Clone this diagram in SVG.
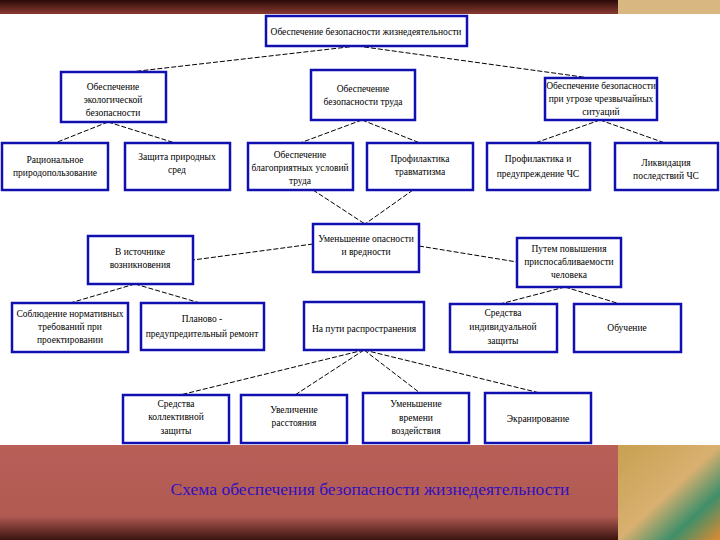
<svg xmlns="http://www.w3.org/2000/svg" width="720" height="540" viewBox="0 0 720 540">
<defs>
<linearGradient id="top" x1="0" y1="0" x2="0" y2="1"><stop offset="0" stop-color="#2a0a08"/><stop offset="1" stop-color="#8a3a32"/></linearGradient>
<linearGradient id="bot" x1="0" y1="0" x2="0" y2="1"><stop offset="0" stop-color="#b85f58"/><stop offset="0.75" stop-color="#b05a52"/><stop offset="1" stop-color="#3a1410"/></linearGradient>
<linearGradient id="deco" x1="0" y1="0" x2="1" y2="1"><stop offset="0" stop-color="#c8a050"/><stop offset="0.5" stop-color="#d9b070"/><stop offset="0.75" stop-color="#3f8f6a"/><stop offset="1" stop-color="#e08a30"/></linearGradient>
</defs>
<style>
.b{fill:#fff;stroke:#1010b0;stroke-width:2.5}
.t{font-family:'Liberation Serif',serif;font-size:9.5px;fill:#000;text-anchor:middle}
.c line{stroke:#000;stroke-width:1;stroke-dasharray:5,2}
</style>
<rect width="720" height="540" fill="#fff"/>
<rect width="720" height="14" fill="url(#top)"/>
<rect x="618" y="0" width="102" height="14" fill="#d8b880"/>
<rect x="0" y="445" width="720" height="95" fill="url(#bot)"/>
<rect x="618" y="445" width="102" height="95" fill="url(#deco)"/>
<text x="370" y="495" font-family="'Liberation Serif',serif" font-size="17.5" fill="#3010c0" text-anchor="middle">Схема обеспечения безопасности жизнедеятельности</text>
<g class="c">
<line x1="357" y1="46" x2="130" y2="72"/><line x1="357" y1="46" x2="590" y2="78"/>
<line x1="108" y1="122" x2="55" y2="143"/><line x1="108" y1="122" x2="175" y2="143"/>
<line x1="362" y1="120" x2="300" y2="143"/><line x1="362" y1="120" x2="420" y2="143"/>
<line x1="600" y1="120" x2="535" y2="143"/><line x1="600" y1="120" x2="665" y2="143"/>
<line x1="313" y1="190" x2="365" y2="224"/><line x1="413" y1="190" x2="365" y2="224"/>
<line x1="313" y1="244" x2="193" y2="260"/><line x1="419" y1="246" x2="517" y2="262"/>
<line x1="135" y1="284" x2="70" y2="303"/><line x1="135" y1="284" x2="200" y2="303"/>
<line x1="565" y1="287" x2="500" y2="304"/><line x1="565" y1="287" x2="620" y2="304"/>
<line x1="364" y1="350" x2="180" y2="395"/><line x1="364" y1="350" x2="295" y2="395"/>
<line x1="364" y1="350" x2="420" y2="393"/><line x1="364" y1="350" x2="540" y2="393"/>
</g>
<g id="root"><rect class="b" x="266" y="16" width="201" height="30"/><text class="t" x="366" y="35">Обеспечение безопасности жизнедеятельности</text></g>
<g id="n1"><rect class="b" x="61" y="72" width="105" height="50"/><text class="t" x="113" y="90">Обеспечение</text><text class="t" x="113" y="103">экологической</text><text class="t" x="113" y="116">безопасности</text></g>
<g id="n2"><rect class="b" x="311" y="70" width="104" height="50"/><text class="t" x="363" y="92">Обеспечение</text><text class="t" x="363" y="105">безопасности  труда</text></g>
<g id="n3"><rect class="b" x="545" y="78" width="112" height="42"/><text class="t" x="601" y="89">Обеспечение безопасности</text><text class="t" x="601" y="102">при угрозе чрезвычайных</text><text class="t" x="601" y="115">ситуаций</text></g>
<g id="n4"><rect class="b" x="2" y="143" width="106" height="47"/><text class="t" x="55" y="163">Рациональное</text><text class="t" x="55" y="176">природопользование</text></g>
<g id="n5"><rect class="b" x="125" y="143" width="105" height="47"/><text class="t" x="177" y="160">Защита природных</text><text class="t" x="177" y="173">сред</text></g>
<g id="n6"><rect class="b" x="248" y="143" width="105" height="47"/><text class="t" x="300" y="158">Обеспечение</text><text class="t" x="300" y="171">благоприятных условий</text><text class="t" x="300" y="184">труда</text></g>
<g id="n7"><rect class="b" x="367" y="143" width="106" height="47"/><text class="t" x="420" y="162">Профилактика</text><text class="t" x="420" y="175">травматизма</text></g>
<g id="n8"><rect class="b" x="487" y="143" width="103" height="47"/><text class="t" x="538" y="162">Профилактика и</text><text class="t" x="538" y="177">предупреждение ЧС</text></g>
<g id="n9"><rect class="b" x="615" y="143" width="103" height="47"/><text class="t" x="666" y="166">Ликвидация</text><text class="t" x="666" y="179">последствий ЧС</text></g>
<g id="n10"><rect class="b" x="313" y="224" width="106" height="48"/><text class="t" x="366" y="242">Уменьшение опасности</text><text class="t" x="366" y="255">и вредности</text></g>
<g id="n11"><rect class="b" x="88" y="236" width="105" height="48"/><text class="t" x="140" y="255">В источнике</text><text class="t" x="140" y="268">возникновения</text></g>
<g id="n12"><rect class="b" x="517" y="238" width="104" height="49"/><text class="t" x="569" y="252">Путем повышения</text><text class="t" x="569" y="265">приспосабливаемости</text><text class="t" x="569" y="278">человека</text></g>
<g id="n13"><rect class="b" x="12" y="303" width="116" height="49"/><text class="t" x="70" y="317">Соблюдение нормативных</text><text class="t" x="70" y="330">требований при</text><text class="t" x="70" y="343">проектировании</text></g>
<g id="n14"><rect class="b" x="141" y="303" width="123" height="47"/><text class="t" x="202" y="322">Планово -</text><text class="t" x="202" y="337">предупредительный ремонт</text></g>
<g id="n15"><rect class="b" x="304" y="302" width="120" height="48"/><text class="t" x="364" y="332">На пути распространения</text></g>
<g id="n16"><rect class="b" x="450" y="304" width="107" height="48"/><text class="t" x="503" y="316">Средства</text><text class="t" x="503" y="330">индивидуальной</text><text class="t" x="503" y="344">защиты</text></g>
<g id="n17"><rect class="b" x="574" y="304" width="107" height="48"/><text class="t" x="627" y="331">Обучение</text></g>
<g id="n18"><rect class="b" x="123" y="395" width="106" height="48"/><text class="t" x="176" y="407">Средства</text><text class="t" x="176" y="420">коллективной</text><text class="t" x="176" y="434">защиты</text></g>
<g id="n19"><rect class="b" x="241" y="395" width="106" height="48"/><text class="t" x="294" y="413">Увеличение</text><text class="t" x="294" y="426">расстояния</text></g>
<g id="n20"><rect class="b" x="363" y="393" width="106" height="50"/><text class="t" x="416" y="407">Уменьшение</text><text class="t" x="416" y="421">времени</text><text class="t" x="416" y="434">воздействия</text></g>
<g id="n21"><rect class="b" x="485" y="393" width="106" height="50"/><text class="t" x="538" y="422">Экранирование</text></g>
</svg>
